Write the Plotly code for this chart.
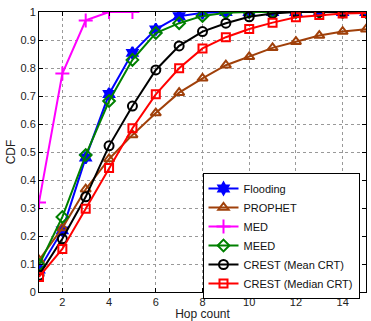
import plotly.graph_objects as go

hops = list(range(1, 16))
med_hops = [1, 2, 3, 4, 5]

flooding = [0.08, 0.22, 0.48, 0.707, 0.854, 0.938, 0.985, 0.997, 1.0, 1.0, 1.0, 1.0, 1.0, 1.0, 1.0]
prophet = [0.114, 0.229, 0.367, 0.475, 0.561, 0.639, 0.712, 0.763, 0.81, 0.84, 0.872, 0.894, 0.916, 0.93, 0.938]
med = [0.32, 0.78, 0.97, 1.0, 1.0]
meed = [0.096, 0.268, 0.489, 0.682, 0.829, 0.925, 0.96, 0.986, 0.997, 1.0, 1.0, 1.0, 1.0, 1.0, 1.0]
crest_mean = [0.06, 0.19, 0.34, 0.522, 0.664, 0.793, 0.879, 0.93, 0.96, 0.983, 0.995, 1.0, 1.0, 1.0, 1.0]
crest_median = [0.054, 0.154, 0.297, 0.443, 0.585, 0.706, 0.799, 0.87, 0.91, 0.939, 0.962, 0.981, 0.989, 0.995, 0.996]

x_ticks = [2, 4, 6, 8, 10, 12, 14]
y_ticks = [0, 0.1, 0.2, 0.3, 0.4, 0.5, 0.6, 0.7, 0.8, 0.9, 1]
y_tick_labels = ["0", "0.1", "0.2", "0.3", "0.4", "0.5", "0.6", "0.7", "0.8", "0.9", "1"]

series = [
    ("Flooding", hops, flooding, "#0000ff", "hexagram", 9),
    ("PROPHET", hops, prophet, "#a0400a", "triangle-up-open", 9),
    ("MED", med_hops, med, "#ff00ff", "cross-thin-open", 10),
    ("MEED", hops, meed, "#008000", "diamond-open", 9),
    ("CREST (Mean CRT)", hops, crest_mean, "#000000", "circle-open", 9),
    ("CREST (Median CRT)", hops, crest_median, "#ff0000", "square-open", 8),
]

fig = go.Figure()
for name, xs, ys, color, sym, size in series:
    fig.add_trace(go.Scatter(
        x=xs, y=ys, name=name, mode="lines+markers",
        line=dict(color=color, width=2),
        marker=dict(symbol=sym, size=size, color=color,
                    line=dict(color=color, width=2)),
    ))

font_family = "Liberation Sans, Arial"
axis_common = dict(
    showline=True, linecolor="black", linewidth=1, mirror="ticks",
    ticks="inside", ticklen=4, tickcolor="black",
    showgrid=True, gridcolor="#999999", griddash="dot", gridwidth=1,
    zeroline=False, automargin=False,
    tickfont=dict(family=font_family, size=11, color="#222"),
)

fig.update_xaxes(range=[1, 15], tickvals=x_ticks,
                 title=dict(text="Hop count", standoff=0,
                            font=dict(family=font_family, size=12, color="#222")),
                 **axis_common)
fig.update_yaxes(range=[0, 1], tickvals=y_ticks, ticktext=y_tick_labels,
                 title=dict(text="CDF", standoff=2,
                            font=dict(family=font_family, size=12, color="#222")),
                 **axis_common)

fig.update_layout(
    width=371, height=321,
    margin=dict(l=39, r=5, t=12, b=29),
    plot_bgcolor="white", paper_bgcolor="white",
    legend=dict(x=0.5, y=0.425, xanchor="left", yanchor="top",
                bgcolor="white", bordercolor="black", borderwidth=1,
                font=dict(family=font_family, size=11, color="#111"),
                tracegroupgap=0, itemwidth=30),
)

fig.write_html("out.html", config={"displayModeBar": False},
               post_script="document.body.style.margin='0';document.body.style.padding='0';")
